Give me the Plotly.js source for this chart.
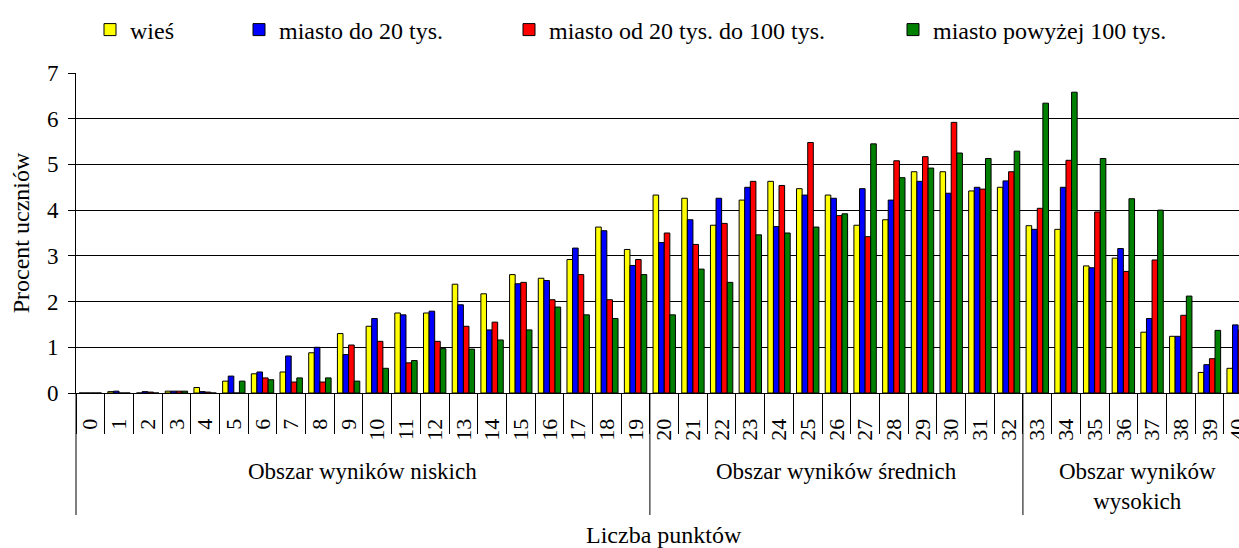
<!DOCTYPE html>
<html><head><meta charset="utf-8">
<script src="https://cdn.plot.ly/plotly-3.0.1.min.js"></script>
<style>
html,body{margin:0;padding:0;background:#fff;overflow:hidden}
.legendbar{transform:translate(7px,0px) scale(1.45)}
</style>
</head><body><div id="chart" style="width:1239px;height:548px"></div>
<script>
const categories = ['0','1','2','3','4','5','6','7','8','9','10','11','12','13','14','15','16','17','18','19','20',
  '21','22','23','24','25','26','27','28','29','30','31','32','33','34','35','36','37','38','39','40'];
const seriesNames = ['wieś', 'miasto do 20 tys.', 'miasto od 20 tys. do 100 tys.', 'miasto powyżej 100 tys.'];
const wies = [0,0.03,0,0.04,0.12,0.26,0.42,0.46,0.88,1.30,1.46,1.75,1.75,2.38,2.17,2.59,2.51,2.92,3.63,3.14,
  4.33,4.26,3.67,4.22,4.63,4.47,4.33,3.67,3.79,4.84,4.84,4.42,4.50,3.66,3.58,2.78,2.95,1.33,1.24,0.45,0.54];
const miastoDo20 = [0,0.04,0.03,0.04,0.03,0.37,0.46,0.81,1.00,0.84,1.63,1.71,1.79,1.93,1.38,2.39,2.46,3.17,3.55,2.79,
  3.29,3.79,4.26,4.50,3.64,4.33,4.26,4.47,4.22,4.63,4.37,4.50,4.64,3.58,4.50,2.74,3.16,1.63,1.24,0.62,1.49];
const miasto20do100 = [0,0,0.02,0.04,0.02,0,0.33,0.24,0.24,1.05,1.13,0.66,1.13,1.46,1.55,2.42,2.04,2.59,2.04,2.92,
  3.50,3.25,3.71,4.63,4.54,5.48,3.88,3.42,5.08,5.17,5.92,4.46,4.84,4.04,5.09,3.96,2.66,2.91,1.70,0.75,1.37];
const miastoPow100 = [0,0,0,0.04,0,0.26,0.29,0.33,0.33,0.26,0.54,0.71,0.97,0.96,1.16,1.38,1.88,1.71,1.63,2.59,
  1.71,2.71,2.42,3.46,3.50,3.63,3.92,5.45,4.71,4.92,5.25,5.13,5.29,6.34,6.58,5.13,4.25,4.00,2.12,1.37,1.20];
const groupNames = ['Obszar wyników niskich', 'Obszar wyników średnich', 'Obszar wyników<br>wysokich'];
const groupStarts = [0, 20, 33];
const groupEnds = [19, 32, 40];
const xTitle = 'Liczba punktów';
const yTitle = 'Procent uczniów';
const yTicks = [0, 1, 2, 3, 4, 5, 6, 7];

const FONT = 'Liberation Serif, Times New Roman, serif';
const colors = ['#FFFF00', '#0000FF', '#FF0000', '#008000'];
const values = [wies, miastoDo20, miasto20do100, miastoPow100];
const legendIds = ['legend', 'legend2', 'legend3', 'legend4'];
const legendTextX = [130, 279, 549, 933];

const W = 1239, H = 548, ML = 76, MT = 73, MB = 155;
const PH = H - MT - MB;
const py = Y => (H - MB - Y) / PH;   // pixel -> paper y

const traces = values.map((v, i) => ({
  type: 'bar', name: seriesNames[i], x: categories, y: v,
  marker: {color: colors[i], line: {color: '#000', width: 1}},
  legend: legendIds[i], showlegend: true, hoverinfo: 'x+y+name'
}));

const layout = {
  width: W, height: H,
  margin: {l: ML, r: 0, t: MT, b: MB},
  paper_bgcolor: '#fff', plot_bgcolor: '#fff',
  font: {family: FONT, size: 22, color: '#000'},
  showlegend: true,
  barmode: 'group', bargap: 0.22, bargroupgap: 0,
  xaxis: {
    type: 'category', range: [-0.5, 40.03], fixedrange: true,
    showline: true, linecolor: '#000', linewidth: 1,
    ticks: 'outside', tickson: 'boundaries', ticklen: 40, tickcolor: '#000', tickwidth: 1,
    tickangle: -90, ticklabelstandoff: 16,
    tickfont: {family: FONT, size: 22, color: '#000'},
    showgrid: false, zeroline: false
  },
  yaxis: {
    range: [0, 7], tickvals: yTicks, fixedrange: true,
    showline: true, linecolor: '#000', linewidth: 1,
    ticks: 'outside', ticklen: 7, tickcolor: '#000',
    ticklabelstandoff: 5,
    tickfont: {family: FONT, size: 23, color: '#000'},
    showgrid: true, gridcolor: '#000', gridwidth: 1, zeroline: false,
    title: {text: yTitle, font: {family: FONT, size: 24, color: '#000'}, standoff: 10}
  },
  shapes: [],
  annotations: []
};

legendIds.forEach((id, i) => {
  layout[id] = {
    orientation: 'h', xref: 'container', yref: 'container',
    x: (legendTextX[i] - 40) / W, xanchor: 'left',
    y: 1 - 30 / H, yanchor: 'middle',
    font: {family: FONT, size: 24, color: '#000'},
    bgcolor: 'rgba(0,0,0,0)', borderwidth: 0
  };
});

// long separators between score areas (and the left edge)
layout.shapes.push({type: 'line', xref: 'paper', yref: 'paper', x0: 0, x1: 0, y0: 0, y1: py(515),
  line: {color: '#000', width: 1}});
groupStarts.slice(1).forEach(s => {
  layout.shapes.push({type: 'line', xref: 'x', yref: 'paper', x0: s - 0.5, x1: s - 0.5, y0: 0, y1: py(515),
    line: {color: '#000', width: 1}});
});

groupNames.forEach((g, i) => {
  layout.annotations.push({
    xref: 'x', yref: 'paper', x: (groupStarts[i] + groupEnds[i]) / 2, y: py(457),
    xanchor: 'center', yanchor: 'top', showarrow: false, text: g,
    font: {family: FONT, size: 23, color: '#000'}
  });
});
layout.annotations.push({
  xref: 'x', yref: 'paper', x: (categories.length - 1) / 2, y: py(535),
  xanchor: 'center', yanchor: 'middle', showarrow: false, text: xTitle,
  font: {family: FONT, size: 24, color: '#000'}
});

Plotly.newPlot('chart', traces, layout, {displayModeBar: false, staticPlot: true});
</script></body></html>
